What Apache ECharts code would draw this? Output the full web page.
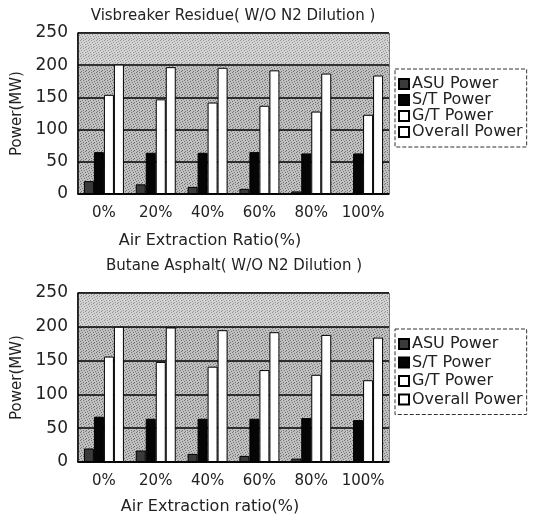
<!DOCTYPE html>
<html>
<head>
<meta charset="utf-8">
<script src="https://cdn.jsdelivr.net/npm/echarts@6/dist/echarts.min.js"></script>
<style>
  html, body { margin: 0; padding: 0; background: #fff; }
  #chart { width: 534px; height: 515px; }
</style>
</head>
<body>
<div id="chart"></div>
<script>
// categories and values
var categories = ['0%', '20%', '40%', '60%', '80%', '100%'];
var yTicks = [0, 50, 100, 150, 200, 250];
var legendNames = ['ASU Power', 'S/T Power', 'G/T Power', 'Overall Power'];

// Visbreaker Residue
var vbAsu = [20, 15, 11, 8, 4, 1];
var vbSt = [65, 64, 64, 65, 63, 63];
var vbGt = [154, 147, 142, 137, 128, 123];
var vbOverall = [201, 197, 196, 192, 187, 184];

// Butane Asphalt
var baAsu = [20, 17, 12, 9, 5, 1];
var baSt = [67, 64, 64, 64, 65, 62];
var baGt = [156, 148, 141, 136, 129, 121];
var baOverall = [200, 199, 195, 192, 188, 184];

var FONT = 'DejaVu Sans';

// printed stipple for the plot background (fixed dot layout)
var dots = [[0,0],[3,0],[6,1],[1,2],[4,2],[7,3],[2,4],[5,4],[0,5],[3,6],[6,6],[1,7],[5,7]];
function makePattern(base, dark) {
    var c = document.createElement('canvas');
    c.width = 8; c.height = 8;
    var ctx = c.getContext('2d');
    ctx.fillStyle = base;
    ctx.fillRect(0, 0, 8, 8);
    ctx.fillStyle = dark;
    dots.forEach(function (d) { ctx.fillRect(d[0], d[1], 1, 1); });
    return { image: c, repeat: 'repeat' };
}
var bgDark = makePattern('#c0c0c0', '#737373');
var bgLight = makePattern('#d2d2d2', '#949494');

var chart = echarts.init(document.getElementById('chart'));

var grids = [
    { left: 78, top: 33, width: 311, height: 161 },
    { left: 78, top: 293, width: 311, height: 169 }
];

function xAxisFor(i) {
    return {
        type: 'category',
        gridIndex: i,
        data: categories,
        axisTick: { show: false },
        axisLine: { lineStyle: { color: '#000', width: 1.5 } },
        axisLabel: { color: '#222', fontFamily: FONT, fontSize: 15, margin: 12, interval: 0 }
    };
}

function yAxisFor(i) {
    return {
        type: 'value',
        gridIndex: i,
        min: yTicks[0],
        max: yTicks[yTicks.length - 1],
        interval: 50,
        name: 'Power(MW)',
        nameLocation: 'middle',
        nameGap: 45,
        nameTextStyle: { color: '#222', fontFamily: FONT, fontSize: 15 },
        axisTick: { show: false },
        axisLine: { show: true, lineStyle: { color: '#000', width: 1.5 } },
        axisLabel: { color: '#222', fontFamily: FONT, fontSize: 17, margin: 10 },
        splitLine: { show: true, lineStyle: { color: '#000', width: 1.5 } },
        splitArea: { show: true, areaStyle: { color: [bgDark, bgDark, bgDark, bgDark, bgLight] } }
    };
}

function barSeries(name, data, idx, color) {
    return {
        name: name,
        type: 'bar',
        xAxisIndex: idx,
        yAxisIndex: idx,
        barWidth: 10,
        barGap: '0%',
        itemStyle: { color: color, borderColor: '#000', borderWidth: 1 },
        data: data
    };
}

function legendFor(top, gap) {
    return {
        orient: 'vertical',
        left: 395,
        top: top,
        itemWidth: 10,
        itemHeight: 10,
        itemGap: gap,
        padding: [7, 4, 7, 3],
        borderColor: '#333',
        borderWidth: 1,
        borderType: 'dashed',
        icon: 'rect',
        data: legendNames,
        selectedMode: false,
        textStyle: { color: '#222', fontFamily: FONT, fontSize: 16, lineHeight: 14, padding: [0, 0, 0, -2] }
    };
}

var option = {
    animation: false,
    backgroundColor: '#fff',
    title: [
        { text: 'Visbreaker Residue( W/O N2 Dilution )', left: 228, top: 4, textAlign: 'center',
          textStyle: { color: '#222', fontFamily: FONT, fontSize: 15, fontWeight: 'normal' } },
        { text: 'Air Extraction Ratio(%)', left: 205, top: 228, textAlign: 'center',
          textStyle: { color: '#222', fontFamily: FONT, fontSize: 16, fontWeight: 'normal' } },
        { text: 'Butane Asphalt( W/O N2 Dilution )', left: 229, top: 254, textAlign: 'center',
          textStyle: { color: '#222', fontFamily: FONT, fontSize: 15, fontWeight: 'normal' } },
        { text: 'Air Extraction ratio(%)', left: 205, top: 494, textAlign: 'center',
          textStyle: { color: '#222', fontFamily: FONT, fontSize: 16, fontWeight: 'normal' } }
    ],
    legend: [legendFor(69, 0), legendFor(329, 2.5)],
    grid: grids.map(function (g) {
        return Object.assign({ show: true, borderColor: '#000', borderWidth: 1 }, g);
    }),
    xAxis: [xAxisFor(0), xAxisFor(1)],
    yAxis: [yAxisFor(0), yAxisFor(1)],
    series: [
        barSeries('ASU Power', vbAsu, 0, '#3a3a3a'),
        barSeries('S/T Power', vbSt, 0, '#050505'),
        barSeries('G/T Power', vbGt, 0, '#ffffff'),
        barSeries('Overall Power', vbOverall, 0, '#ffffff'),
        barSeries('ASU Power', baAsu, 1, '#3a3a3a'),
        barSeries('S/T Power', baSt, 1, '#050505'),
        barSeries('G/T Power', baGt, 1, '#ffffff'),
        barSeries('Overall Power', baOverall, 1, '#ffffff')
    ]
};

chart.setOption(option);
window.addEventListener('resize', function () {
    chart.resize();
});
</script>
</body>
</html>
